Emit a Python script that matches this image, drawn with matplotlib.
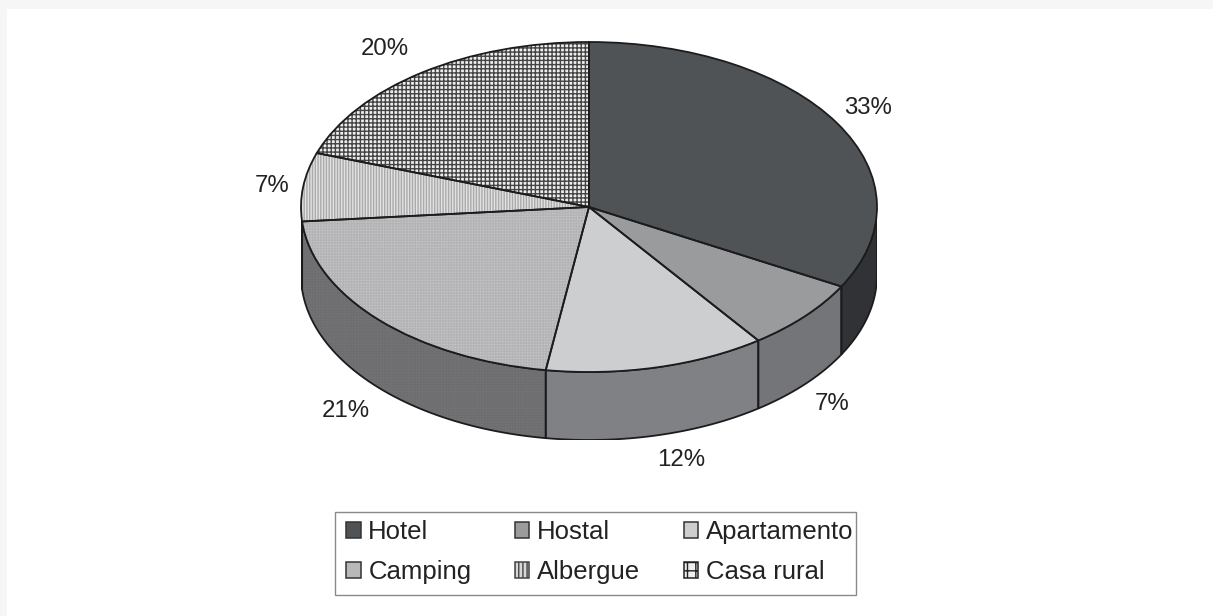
import numpy as np
import matplotlib
matplotlib.use("Agg")
import matplotlib.pyplot as plt
from matplotlib.patches import Patch, Rectangle

categories = ["Hotel", "Hostal", "Apartamento", "Camping", "Albergue", "Casa rural"]
values = [33, 7, 12.4, 21.2, 6.7, 19.7]

top_colors = ["#505355", "#9a9b9d", "#cdced0", "#c8c8ca", "#e2e2e2", "#eeeeee"]
hatch_colors = ["#505355", "#9a9b9d", "#cdced0", "#b4b4b6", "#aaaaaa", "#444444"]
hatches = [None, None, None, "++++++", "||||||", "++++"]
side_colors = ["#303235", "#747578", "#808184", "#767678", "#8a8a8a", "#808080"]
side_hatch_colors = ["#303235", "#747578", "#808184", "#6e6e70", "#8a8a8a", "#808080"]
# pixel nudges for the percent labels
label_nudge = [(1, -5), (1, 7), (16, 5), (-8, 9), (3, 2), (-17, -7)]

plt.rcParams["font.family"] = ["Liberation Sans", "DejaVu Sans"]
plt.rcParams["hatch.linewidth"] = 1.0

W, H = 1213, 616
cx, cy, rx, ry, depth_px = 589, 207, 288, 165, 68
depth = depth_px / ry
line = "#1c1c1e"

fig = plt.figure(figsize=(W / 100, H / 100), dpi=100, facecolor="#ffffff")
# faint scan border on the top and left
fig.add_artist(Rectangle((0, 1 - 9 / H), 1, 9 / H, transform=fig.transFigure, facecolor="#f6f6f6", linewidth=0))
fig.add_artist(Rectangle((0, 0), 7 / W, 1, transform=fig.transFigure, facecolor="#f6f6f6", linewidth=0))

ax = fig.add_axes([(cx - rx) / W, (H - (cy + ry + depth_px)) / H, 2 * rx / W, (2 * ry + depth_px) / H])

cum = np.cumsum([0] + values) / sum(values) * 360

# side walls, only the front half of the disc is visible
for i in range(len(values)):
    a0, a1 = max(cum[i], 90), min(cum[i + 1], 270)
    if a1 <= a0:
        continue
    t = np.radians(np.linspace(a0, a1, 60))
    x, y = np.sin(t), np.cos(t)
    px, py = np.r_[x, x[::-1]], np.r_[y, y[::-1] - depth]
    h = hatches[i]
    ax.fill(px, py, facecolor=side_colors[i], edgecolor=side_hatch_colors[i], hatch=h, linewidth=0, zorder=1)
    ax.fill(px, py, facecolor="none", edgecolor=line, linewidth=1.3, zorder=1.5)

# top of the disc
wedges, _ = ax.pie(values, startangle=90, counterclock=False, radius=1, colors=top_colors,
                   wedgeprops={"linewidth": 0})
for w, h, c in zip(wedges, hatches, hatch_colors):
    w.set_zorder(2)
    if h:
        w.set_hatch(h)
        w.set_edgecolor(c)
outline, _ = ax.pie(values, startangle=90, counterclock=False, radius=1, colors=["none"] * 6,
                    wedgeprops={"linewidth": 1.3, "edgecolor": line})
for w in outline:
    w.set_zorder(3)

ax.set_aspect("auto")
ax.set_xlim(-1, 1)
ax.set_ylim(-1 - depth, 1)
ax.axis("off")

# percent labels sit just outside the rim
for i, v in enumerate(values):
    mid = np.radians((cum[i] + cum[i + 1]) / 2)
    x, y = 1.12 * np.sin(mid), 1.12 * np.cos(mid)
    if 90 < np.degrees(mid) < 270:
        y -= depth
    ax.annotate("{:.0f}%".format(v), (x, y), xytext=(label_nudge[i][0] * 0.72, -label_nudge[i][1] * 0.72),
                textcoords="offset points", ha="center", va="center", fontsize=17.3,
                color="#222222", annotation_clip=False, zorder=5)

# legend box is drawn by hand, the text nearly touches its right side
fig.add_artist(Rectangle((335 / W, 1 - 595 / H), 521 / W, 83 / H, transform=fig.transFigure,
                         facecolor="#ffffff", edgecolor="#8a8a8a", linewidth=1.0))

handles = [Patch(facecolor=f, edgecolor="#333333", linewidth=1.1) for f in top_colors]
handles[3] = Patch(facecolor="#b8b8ba", edgecolor="#333333", linewidth=1.1)
handles[4] = Patch(facecolor="#d8d8d8", edgecolor="#444444", linewidth=1.1, hatch="||||")
handles[5] = Patch(facecolor="#eeeeee", edgecolor="#222222", linewidth=1.1, hatch="++")
# reorder so the legend fills rows, not columns
order = [0, 3, 1, 4, 2, 5]
leg = fig.legend([handles[i] for i in order], [categories[i] for i in order], ncol=3,
                 loc="center", bbox_to_anchor=(600 / W, 1 - 552 / H), fontsize=18.5,
                 frameon=False, handlelength=0.55, handleheight=0.55, handletextpad=0.3,
                 columnspacing=1.71, labelspacing=0.62, borderpad=0, borderaxespad=0,
                 labelcolor="#222222")

fig.savefig("out.png", dpi=100, facecolor=fig.get_facecolor())
